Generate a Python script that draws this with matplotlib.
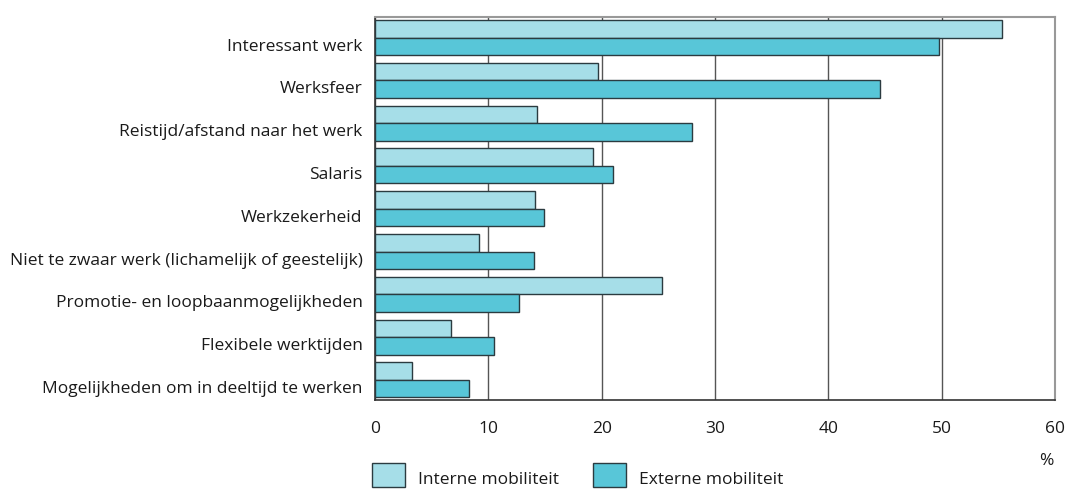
import matplotlib
matplotlib.use("Agg")
import matplotlib.pyplot as plt
import matplotlib.transforms as mtransforms
from matplotlib.patches import Rectangle
import numpy as np

categories = [
    "Interessant werk",
    "Werksfeer",
    "Reistijd/afstand naar het werk",
    "Salaris",
    "Werkzekerheid",
    "Niet te zwaar werk (lichamelijk of geestelijk)",
    "Promotie- en loopbaanmogelijkheden",
    "Flexibele werktijden",
    "Mogelijkheden om in deeltijd te werken",
]
interne = [55.3, 19.7, 14.3, 19.2, 14.1, 9.2, 25.3, 6.7, 3.3]
externe = [49.8, 44.6, 28.0, 21.0, 14.9, 14.0, 12.7, 10.5, 8.3]
series_labels = ["Interne mobiliteit", "Externe mobiliteit"]
xticks = [0, 10, 20, 30, 40, 50, 60]

c_int = "#a6dee8"
c_ext = "#58c6d8"
edge = "#2b3b40"
fs = 12.5

plt.rcParams["font.family"] = ["Open Sans", "DejaVu Sans"]

fig = plt.figure(figsize=(10.66, 4.9), dpi=100)
ax = fig.add_axes([375 / 1066, 1 - 400 / 490, 680 / 1066, 383 / 490])

y = np.arange(len(categories))
h = 0.41
ax.barh(y - h / 2, interne, height=h, color=c_int, edgecolor=edge, linewidth=1, zorder=3)
ax.barh(y + h / 2, externe, height=h, color=c_ext, edgecolor=edge, linewidth=1, zorder=3)

ax.set_xlim(0, 60)
ax.set_ylim(8.47, -0.48)
ax.set_xticks(xticks)
ax.set_yticks(y)
ax.set_yticklabels(categories, fontsize=fs, color="#1a1a1a")
ax.tick_params(axis="both", length=0)
ax.tick_params(axis="x", pad=15, labelsize=fs, labelcolor="#1a1a1a")
ax.tick_params(axis="y", pad=9)
# labels sit slightly below the group centre in the reference
shift = mtransforms.ScaledTranslation(0, -7 / 100, fig.dpi_scale_trans)
for lab in ax.get_yticklabels():
    lab.set_transform(lab.get_transform() + shift)
ax.grid(axis="x", color="#555555", linewidth=1, zorder=0)
for s in ("top", "right"):
    ax.spines[s].set_color("#999999")
    ax.spines[s].set_linewidth(1.5)
for s in ("left", "bottom"):
    ax.spines[s].set_color("#333333")
    ax.spines[s].set_linewidth(1.2)

fig.text(1046 / 1066, 1 - 461 / 490, "%", fontsize=fs, ha="center", va="center", color="#1a1a1a")

# legend drawn as figure patches
for x0, col, lab in [(372, c_int, series_labels[0]), (593, c_ext, series_labels[1])]:
    fig.patches.append(Rectangle((x0 / 1066, 1 - 487 / 490), 33 / 1066, 24 / 490,
                                 transform=fig.transFigure, facecolor=col,
                                 edgecolor=edge, linewidth=1))
    fig.text((x0 + 46) / 1066, 1 - 480 / 490, lab, fontsize=fs, va="center",
             color="#1a1a1a")

fig.savefig("out.png", dpi=100)
